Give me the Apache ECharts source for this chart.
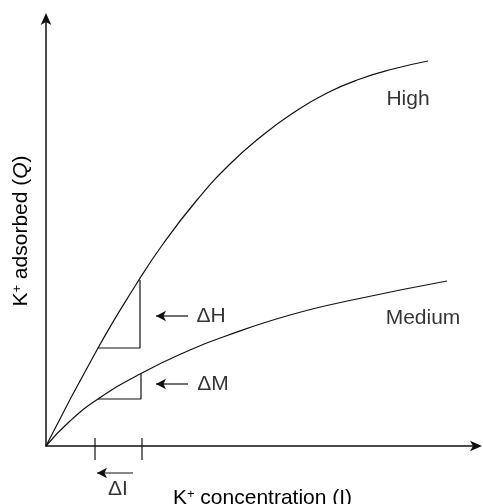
<!DOCTYPE html>
<html>
<head>
<meta charset="utf-8">
<script src="https://cdn.jsdelivr.net/npm/echarts@6/dist/echarts.min.js"></script>
<style>html,body{margin:0;padding:0;background:#fff}#c{width:483px;height:504px}</style>
</head>
<body>
<div id="c"></div>
<script>
// Curves (x = K+ concentration, y = K+ adsorbed), arbitrary units
const highX   = [0, 52, 91, 117, 151, 184, 217, 247, 281, 314, 347, 382];
const highY   = [0, 98, 163, 202, 246, 282, 311, 333, 353, 367, 377, 385];
const mediumX = [0, 24, 52, 94, 144, 177, 244, 311, 401];
const mediumY = [0, 25, 47, 72, 96, 109, 131, 147, 165];
// Slope triangles (ΔI step between two concentrations)
const deltaIX = [52, 94];
const triHighY = [98, 166];
const triMedY  = [47, 72];
// x-axis marks for ΔI
const tickX = [49, 96];
const tickY = [8, -14];
// Annotation arrows
const arrowH = [[142, 130], [110, 130]];
const arrowM = [[142, 62], [110, 62]];
const arrowI = [[87, -27], [51, -27]];
// Text labels
const labelNames = ['High', 'Medium', 'ΔH', 'ΔM', 'ΔI'];
const labelPos = [[362, 347], [377, 128], [165, 130], [167, 62], [72, -43]];

const FONT = '"Liberation Sans", Arial, Helvetica, sans-serif';
const BLACK = '#000';
const FS = 21;

function zip(xs, ys) { return xs.map((x, i) => [x, ys[i]]); }
function seg(points, extra) {
  return Object.assign({
    type: 'line', data: points, symbol: 'none', clip: false, silent: true,
    lineStyle: { color: '#111', width: 1.2 }, z: 3
  }, extra || {});
}
function arrow(pts) {
  return seg([
    { value: pts[0], symbol: 'none' },
    { value: pts[1], symbol: 'arrow', symbolSize: [8, 10], symbolRotate: 90 }
  ], { showSymbol: true, itemStyle: { color: '#111' } });
}
const supStyle = { fontFamily: FONT, fontSize: 13, color: BLACK, verticalAlign: 'top', padding: [0, 0, 8, 0] };

const chart = echarts.init(document.getElementById('c'), null, { renderer: 'canvas' });
chart.setOption({
  animation: false,
  backgroundColor: '#fff',
  grid: { left: 46, right: 4, top: 16, bottom: 58, containLabel: false, outerBoundsMode: 'none' },
  xAxis: {
    type: 'value', min: 0, max: 433,
    name: 'K{sup|+} concentration (I)', nameLocation: 'middle', nameGap: 42,
    nameTextStyle: { fontFamily: FONT, fontSize: FS, color: BLACK,
      rich: { sup: supStyle } },
    axisLine: { lineStyle: { color: '#111', width: 1.5 }, symbol: ['none', 'arrow'], symbolSize: [8, 12], symbolOffset: [0, 3] },
    axisTick: { show: false }, axisLabel: { show: false }, splitLine: { show: false }
  },
  yAxis: {
    type: 'value', min: 0, max: 430,
    name: 'K{sup|+} adsorbed ({i|Q})', nameLocation: 'middle', nameGap: 14,
    nameTextStyle: { fontFamily: FONT, fontSize: FS, color: BLACK,
      rich: {
        sup: supStyle,
        i: { fontFamily: FONT, fontSize: FS, color: BLACK, fontStyle: 'italic' }
      } },
    axisLine: { lineStyle: { color: '#111', width: 1.5 }, symbol: ['none', 'arrow'], symbolSize: [8, 12], symbolOffset: [0, 3] },
    axisTick: { show: false }, axisLabel: { show: false }, splitLine: { show: false }
  },
  series: [
    seg(zip(highX, highY), { smooth: 0.5 }),
    seg(zip(mediumX, mediumY), { smooth: 0.5 }),
    // High triangle
    seg([[deltaIX[0], triHighY[0]], [deltaIX[1], triHighY[0]], [deltaIX[1], triHighY[1]]]),
    // Medium triangle
    seg([[deltaIX[0], triMedY[0]], [deltaIX[1] + 1, triMedY[0]], [deltaIX[1] + 1, triMedY[1]]]),
    // ticks on x-axis
    seg([[tickX[0], tickY[0]], [tickX[0], tickY[1]]]),
    seg([[tickX[1], tickY[0]], [tickX[1], tickY[1]]]),
    arrow(arrowH), arrow(arrowM), arrow(arrowI),
    {
      type: 'scatter', clip: false, silent: true, symbolSize: 0,
      data: labelNames.map((n, i) => ({ name: n, value: labelPos[i] })),
      label: { show: true, position: 'inside', formatter: p => p.name,
        fontFamily: FONT, fontSize: FS, color: BLACK }
    }
  ]
});
</script>
</body>
</html>
